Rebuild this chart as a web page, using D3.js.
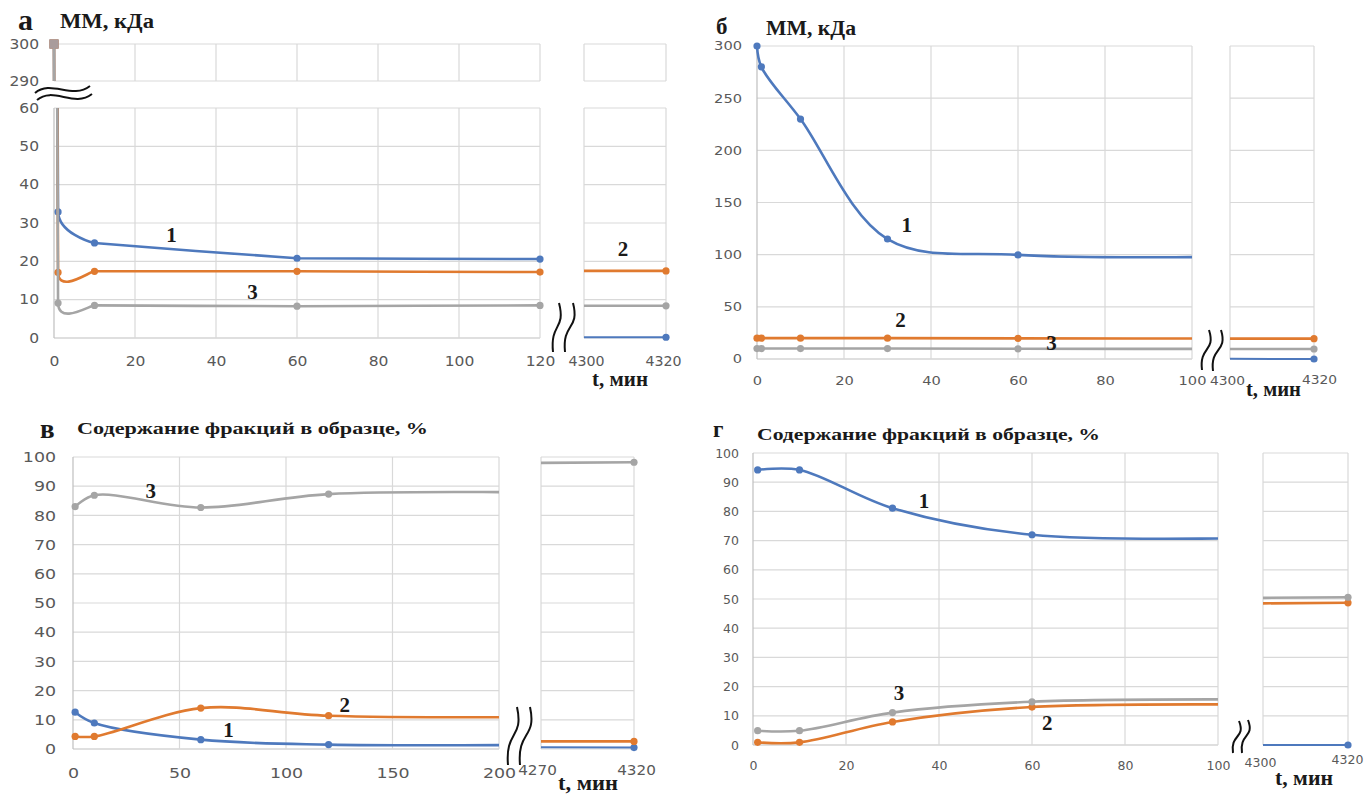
<!DOCTYPE html>
<html>
<head>
<meta charset="utf-8">
<script src="https://cdn.jsdelivr.net/npm/d3@7"></script>
<style>
body { margin: 0; background: #fff; }
svg { display: block; }
.tick text { font-family: "DejaVu Sans", sans-serif; fill: #595959; }
.serif { font-family: "Liberation Serif", "Times New Roman", serif; font-weight: bold; fill: #1a1a1a; }
</style>
</head>
<body>
<svg width="1364" height="794"></svg>
<script>
const colors = ["#4e79bd", "#e07a2f", "#a5a5a5"];
const seriesNames = ["1", "2", "3"];

// панель а: ММ, кДа
const tA = [0, 1, 10, 60, 120];
const a1 = [300, 32.9, 24.8, 20.8, 20.6];
const a2 = [300, 17.1, 17.4, 17.4, 17.2];
const a3 = [300, 9.1, 8.5, 8.3, 8.5];
const tailA = [[0.2, 0.2], [17.5, 17.5], [8.4, 8.4]];

// панель б: ММ, кДа
const tB = [0, 1, 10, 30, 60, 120];
const b1 = [300, 280, 230, 115, 99.8, 98.6];
const b2 = [20, 20, 20, 20, 19.8, 19.5];
const b3 = [10, 10, 10, 10, 9.8, 9.6];
const tailB = [[0.2, 0], [19.5, 19.5], [9.6, 9.6]];

// панель в: содержание фракций, %
const tV = [1, 10, 60, 120, 240];
const v1 = [12.6, 8.9, 3.2, 1.5, 1.5];
const v2 = [4.3, 4.3, 14, 11.4, 11.0];
const v3 = [83, 86.9, 82.7, 87.3, 87.7];
const tailV = [[0.6, 0.5], [2.6, 2.6], [98, 98.2]];

// панель г: содержание фракций, %
const tG = [1, 10, 30, 60, 120];
const g1 = [94.2, 94.2, 81.1, 72, 71.3];
const g2 = [0.9, 0.9, 7.9, 13, 13.7];
const g3 = [4.9, 4.9, 11.1, 14.8, 15.5];
const tailG = [[0, 0], [48.5, 48.7], [50.4, 50.6]];

const smooth = d3.curveCatmullRom.alpha(0.5);

const panels = [
  {
    id: 'a', t: tA, series: [a1, a2, a3], tails: tailA,
    curve: d3.curveCardinal.tension(0.88),
    xMain: [0, 120], xMainR: [54, 540], xTicks: d3.range(0, 121, 20),
    xRight: [4300, 4320], xRightR: [584, 666],
    segs: [
      { domain: [290, 300], range: [81, 44], ticks: [290, 300], square: true, pad: 0 },
      { domain: [0, 60], range: [338, 108], ticks: d3.range(0, 61, 10), pad: 0 }
    ],
    font: 13.5, sx: 1.15, rsx: 1.05, yPad: 15, xPad: 18, rightDx: [2, -3], rightDy: [0, 0],
    labels: [
      { s: 0, t: 29, v: 26.8 }, { s: 2, t: 49, v: 11.9 }, { s: 1, t: 4309.5, v: 23.1, right: true }
    ],
    letter: { text: 'а', x: 18, y: 30, size: 30 },
    title: { text: 'ММ, кДа', x: 60, y: 28, w: 94, size: 20 },
    tmin: { x: 592, y: 386, w: 56 },
    breaks: [{ x: 553, y: 352, h: 49, dx: 6 }, { x: 565, y: 352, h: 49, dx: 8 }],
    hbreak: true
  },
  {
    id: 'b', t: tB, series: [b1, b2, b3], tails: tailB, curve: smooth,
    xMain: [0, 100], xMainR: [757, 1192], xTicks: d3.range(0, 101, 20),
    xRight: [4300, 4320], xRightR: [1230, 1314],
    segs: [{ domain: [0, 300], range: [359, 46], ticks: d3.range(0, 301, 50), pad: 3 }],
    font: 12, sx: 1.22, rsx: 1.15, yPad: 15, xPad: 17, rightDx: [-3, 5], rightDy: [0, -1],
    labels: [
      { s: 0, t: 34.4, v: 128.4 }, { s: 1, t: 33, v: 37.4 }, { s: 2, t: 67.7, v: 15.3 }
    ],
    letter: { text: 'б', x: 716, y: 34, size: 23 },
    title: { text: 'ММ, кДа', x: 766, y: 35, w: 90, size: 20 },
    tmin: { x: 1246, y: 396, w: 55 },
    breaks: [{ x: 1202, y: 370, h: 40, dx: 7 }, { x: 1213, y: 371, h: 41, dx: 8 }]
  },
  {
    id: 'v', t: tV, series: [v1, v2, v3], tails: tailV, curve: smooth,
    xMain: [0, 200], xMainR: [73, 499], xTicks: d3.range(0, 201, 50),
    xRight: [4270, 4320], xRightR: [541, 634],
    segs: [{ domain: [0, 100], range: [749, 457], ticks: d3.range(0, 101, 10), pad: 3 }],
    font: 14.5, sx: 1.2, rsx: 1.05, yPad: 17, xPad: 19, rightDx: [-4, 2], rightDy: [-3, -3],
    labels: [
      { s: 2, t: 36.5, v: 88.4 }, { s: 1, t: 127.6, v: 15.1 }, { s: 0, t: 73, v: 6.6 }
    ],
    letter: { text: 'в', x: 40, y: 438, size: 27 },
    title: { text: 'Содержание фракций в образце, %', x: 77, y: 434, w: 351, size: 17 },
    tmin: { x: 558, y: 790, w: 60 },
    breaks: [{ x: 508, y: 765, h: 58, dx: 9 }, { x: 520, y: 765, h: 58, dx: 10 }]
  },
  {
    id: 'g', t: tG, series: [g1, g2, g3], tails: tailG, curve: smooth,
    xMain: [0, 100], xMainR: [753, 1218], xTicks: d3.range(0, 101, 20),
    xRight: [4300, 4320], xRightR: [1263, 1348],
    segs: [{ domain: [0, 100], range: [745, 453], ticks: d3.range(0, 101, 10), pad: 3 }],
    font: 12.5, sx: 1.0, rsx: 1.0, yPad: 14, xPad: 16, rightDx: [-3, -1], rightDy: [-3, -6],
    labels: [
      { s: 0, t: 36.8, v: 83.4 }, { s: 2, t: 31.4, v: 17.7 }, { s: 1, t: 63.3, v: 7.6 }
    ],
    letter: { text: 'г', x: 713, y: 437, size: 23 },
    title: { text: 'Содержание фракций в образце, %', x: 757, y: 440, w: 343, size: 17 },
    tmin: { x: 1275, y: 785, w: 58 },
    breaks: [{ x: 1233, y: 753, h: 32, dx: 6 }, { x: 1242, y: 753, h: 33, dx: 6 }]
  }
];

const svg = d3.select('svg');
const defs = svg.append('defs');

function drawPanel(p) {
  const g = svg.append('g').attr('class', 'panel-' + p.id);
  const xm = d3.scaleLinear().domain(p.xMain).range(p.xMainR);
  const xr = d3.scaleLinear().domain(p.xRight).range(p.xRightR);

  p.segs.forEach((s, si) => {
    const y = d3.scaleLinear().domain(s.domain).range(s.range);
    const top = s.range[1], bot = s.range[0];

    // сетка основной области
    const grid = g.append('g');
    grid.selectAll('.hl').data(s.ticks).join('line')
      .attr('x1', p.xMainR[0]).attr('x2', p.xMainR[1])
      .attr('y1', d => y(d)).attr('y2', d => y(d))
      .attr('stroke', d => d === 0 ? '#bfbfbf' : '#d9d9d9').attr('stroke-width', 1.2);
    grid.selectAll('.vl').data(p.xTicks).join('line')
      .attr('x1', d => xm(d)).attr('x2', d => xm(d))
      .attr('y1', top).attr('y2', bot)
      .attr('stroke', d => d === p.xMain[0] ? '#bfbfbf' : '#d9d9d9').attr('stroke-width', 1.2);
    // сетка правой области
    grid.selectAll('.hr').data(s.ticks).join('line')
      .attr('x1', p.xRightR[0]).attr('x2', p.xRightR[1])
      .attr('y1', d => y(d)).attr('y2', d => y(d))
      .attr('stroke', '#d9d9d9').attr('stroke-width', 1.2);
    grid.selectAll('.vr').data(p.xRight).join('line')
      .attr('x1', d => xr(d)).attr('x2', d => xr(d))
      .attr('y1', top).attr('y2', bot)
      .attr('stroke', '#d9d9d9').attr('stroke-width', 1.2);

    // ось Y
    g.append('g')
      .attr('transform', 'translate(' + p.xMainR[0] + ',0)')
      .call(d3.axisLeft(y).tickValues(s.ticks).tickSize(0).tickPadding(p.yPad / p.sx))
      .call(a => a.select('.domain').remove())
      .selectAll('text').style('font-size', p.font + 'px')
      .attr('transform', 'scale(' + p.sx + ',1)');

    const clipId = 'clip-' + p.id + si;
    defs.append('clipPath').attr('id', clipId).append('rect')
      .attr('x', p.xMainR[0] - 3).attr('y', top - s.pad)
      .attr('width', p.xMainR[1] - p.xMainR[0] + 3)
      .attr('height', bot - top + 2 * s.pad);
    const clipR = 'clipr-' + p.id + si;
    defs.append('clipPath').attr('id', clipR).append('rect')
      .attr('x', p.xRightR[0]).attr('y', top - 3)
      .attr('width', p.xRightR[1] - p.xRightR[0] + 6)
      .attr('height', bot - top + 6);

    const line = d3.line()
      .x(d => xm(d[0])).y(d => y(d[1]))
      .curve(p.curve);
    const lineR = d3.line().x(d => xr(d[0])).y(d => y(d[1]));
    const inY = v => v >= s.domain[0] && v <= s.domain[1];

    p.series.forEach((vals, k) => {
      const pts = p.t.map((t, i) => [t, vals[i]]);
      g.append('path')
        .attr('clip-path', 'url(#' + clipId + ')')
        .attr('d', line(pts))
        .attr('fill', 'none').attr('stroke', colors[k]).attr('stroke-width', 2.6);

      const marks = pts.filter(d => d[0] <= p.xMain[1] && inY(d[1]));
      if (s.square) {
        g.selectAll(null).data(marks).join('rect')
          .attr('x', d => xm(d[0]) - 4.5).attr('y', d => y(d[1]) - 4.5)
          .attr('width', 9).attr('height', 9)
          .attr('fill', k === 2 ? '#a99c9c' : colors[k]);
      } else {
        g.selectAll(null).data(marks).join('circle')
          .attr('cx', d => xm(d[0])).attr('cy', d => y(d[1])).attr('r', 3.6)
          .attr('fill', colors[k]);
      }

      const tail = p.tails[k];
      if (inY(tail[0]) && inY(tail[1])) {
        const tp = [[p.xRight[0], tail[0]], [p.xRight[1], tail[1]]];
        g.append('path')
          .attr('clip-path', 'url(#' + clipR + ')')
          .attr('d', lineR(tp))
          .attr('fill', 'none').attr('stroke', colors[k])
          .attr('stroke-width', k === 0 ? 2 : 2.6);
        g.append('circle')
          .attr('cx', xr(tp[1][0])).attr('cy', y(tp[1][1])).attr('r', 3.6)
          .attr('fill', colors[k]);
      }
    });

    // подписи кривых
    p.labels.filter(l => inY(l.v)).forEach(l => {
      g.append('text').attr('class', 'serif')
        .attr('x', l.right ? xr(l.t) : xm(l.t)).attr('y', y(l.v))
        .attr('text-anchor', 'middle').attr('dominant-baseline', 'central')
        .style('font-size', '21px')
        .text(seriesNames[l.s]);
    });
  });

  // ось X
  const bottom = p.segs[p.segs.length - 1].range[0];
  g.append('g')
    .attr('transform', 'translate(0,' + bottom + ')')
    .call(d3.axisBottom(xm).tickValues(p.xTicks).tickSize(0).tickPadding(p.xPad))
    .call(a => a.select('.domain').remove())
    .selectAll('text').style('font-size', p.font + 'px')
    .attr('transform', 'scale(' + p.sx + ',1)');
  g.append('g')
    .attr('transform', 'translate(0,' + bottom + ')')
    .call(d3.axisBottom(xr).tickValues(p.xRight).tickFormat(d3.format('d')).tickSize(0).tickPadding(p.xPad))
    .call(a => a.select('.domain').remove())
    .selectAll('text').style('font-size', p.font + 'px')
    .attr('transform', (d, i) => 'translate(' + p.rightDx[i] + ',' + p.rightDy[i] + ') scale(' + p.rsx + ',1)');

  // заголовки
  g.append('text').attr('class', 'serif')
    .attr('x', p.letter.x).attr('y', p.letter.y)
    .style('font-size', p.letter.size + 'px').text(p.letter.text);
  g.append('text').attr('class', 'serif')
    .attr('x', p.title.x).attr('y', p.title.y)
    .attr('textLength', p.title.w).attr('lengthAdjust', 'spacingAndGlyphs')
    .style('font-size', p.title.size + 'px').text(p.title.text);
  g.append('text').attr('class', 'serif')
    .attr('x', p.tmin.x).attr('y', p.tmin.y)
    .attr('textLength', p.tmin.w).attr('lengthAdjust', 'spacingAndGlyphs')
    .style('font-size', '22px').text('t, мин');

  // знаки разрыва оси
  p.breaks.forEach(b => {
    g.append('path')
      .attr('d', 'M' + b.x + ',' + b.y +
        ' C' + (b.x - 3) + ',' + (b.y - b.h * 0.6) + ' ' + (b.x + b.dx + 7) + ',' + (b.y - b.h * 0.45) +
        ' ' + (b.x + b.dx) + ',' + (b.y - b.h))
      .attr('fill', 'none').attr('stroke', '#111').attr('stroke-width', 2);
  });
  if (p.hbreak) {
    [[35, 93, 90, 86], [37, 100, 92, 94]].forEach(w => {
      g.append('path')
        .attr('d', 'M' + w[0] + ',' + w[1] + ' C' + (w[0] + 16) + ',' + (w[1] - 14) + ' ' +
          (w[2] - 18) + ',' + (w[3] + 14) + ' ' + w[2] + ',' + w[3])
        .attr('fill', 'none').attr('stroke', '#111').attr('stroke-width', 2);
    });
  }
}

panels.forEach(drawPanel);
</script>
</body>
</html>
